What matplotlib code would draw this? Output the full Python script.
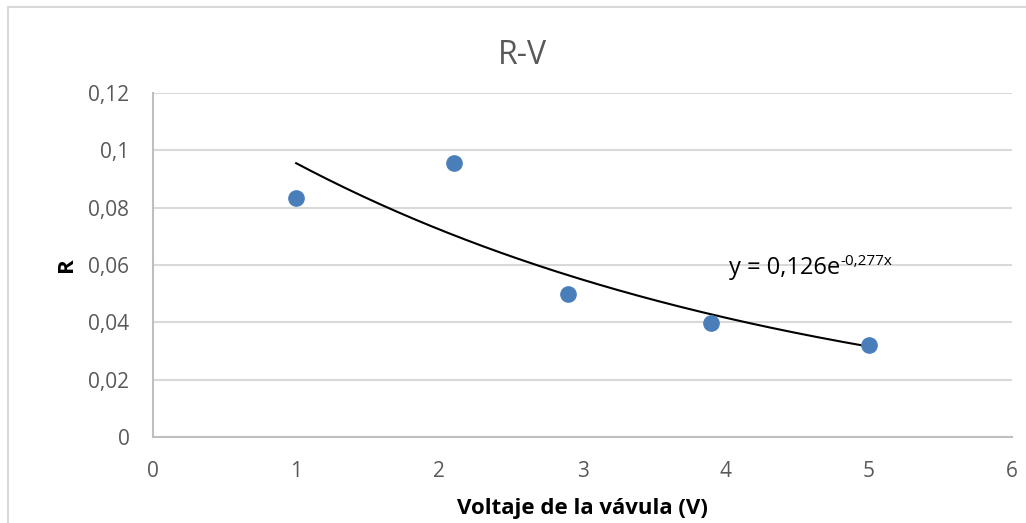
import numpy as np
import matplotlib.pyplot as plt
from matplotlib.lines import Line2D

voltage = [1.0, 2.1, 2.9, 3.9, 5.0]
r_values = [0.0834, 0.0956, 0.0499, 0.0398, 0.0322]

# exponential trendline as shown in the chart
fit_a = 0.126
fit_b = -0.277

x_ticks = [0, 1, 2, 3, 4, 5, 6]
y_ticks = [0, 0.02, 0.04, 0.06, 0.08, 0.1, 0.12]
y_tick_labels = ["0", "0,02", "0,04", "0,06", "0,08", "0,1", "0,12"]

plt.rcParams['font.family'] = ['Open Sans', 'DejaVu Sans']

W, H = 1026, 523
fig = plt.figure(figsize=(W / 100, H / 100), dpi=100)

# chart frame (only left and top edges are visible)
fig.add_artist(Line2D([8 / W, 8 / W], [0, 1 - 7 / H], transform=fig.transFigure,
                      color="#d9d9d9", linewidth=1.5))
fig.add_artist(Line2D([8 / W, 1], [1 - 7 / H, 1 - 7 / H], transform=fig.transFigure,
                      color="#d9d9d9", linewidth=1.5))

ax = fig.add_axes([153 / W, 1 - 437 / H, 859 / W, 344 / H])

x_fit = np.linspace(min(voltage), max(voltage), 200)
ax.plot(x_fit, fit_a * np.exp(fit_b * x_fit), color="black", linewidth=1.5, zorder=2)
ax.plot(voltage, r_values, "o", color="#4a7ebb", markersize=11, zorder=3)

ax.set_xlim(0, 6)
ax.set_ylim(0, 0.12)
ax.set_xticks(x_ticks)
ax.set_yticks(y_ticks)
ax.set_yticklabels(y_tick_labels)
ax.grid(axis="y", color="#d9d9d9", linewidth=1.5)
ax.set_axisbelow(True)
for s in ["top", "right"]:
    ax.spines[s].set_visible(False)
for s in ["left", "bottom"]:
    ax.spines[s].set_color("#bfbfbf")
    ax.spines[s].set_linewidth(1.5)
ax.tick_params(length=0, labelsize=15, colors="#595959", pad=17)

fig.text(522 / W, 1 - 63.5 / H, "R-V", fontsize=23, color="#595959",
         ha="center", va="baseline")
fig.text(582 / W, 1 - 514 / H, "Voltaje de la vávula (V)", fontsize=16,
         fontweight="bold", ha="center", va="baseline")
fig.text(72 / W, 1 - 265 / H, "R", fontsize=16, fontweight="bold", rotation=90,
         rotation_mode="anchor", ha="center", va="baseline")

eq = ax.text(4.02, 0.0569, "y = 0,126e", fontsize=17, va="baseline", ha="left",
             color="black")
fig.canvas.draw()
bb = eq.get_window_extent()
_, base_y = ax.transData.transform((4.02, 0.0569))
fig.text((bb.x1 + 1) / W, (base_y + 9) / H, "-0,277x", fontsize=11,
         va="baseline", ha="left", color="black")

fig.savefig("out.png", dpi=100)
